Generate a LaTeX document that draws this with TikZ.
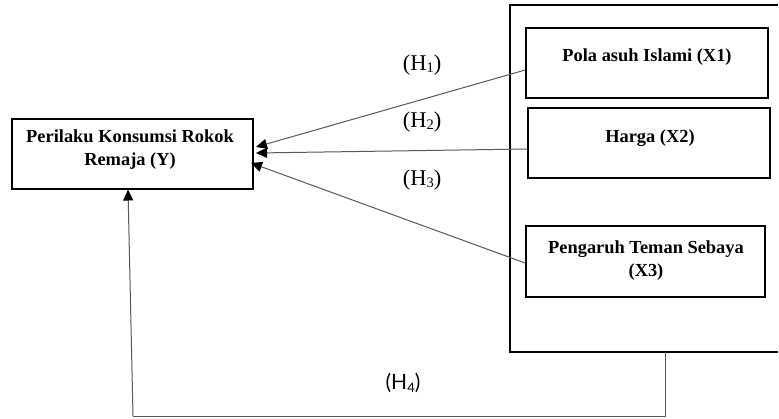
\documentclass[tikz,border=0pt]{standalone}
\usepackage{fontspec}
\setmainfont{Liberation Serif}
\newfontfamily\hsans{Lato}
\usetikzlibrary{arrows.meta,calc}
\begin{document}
\begin{tikzpicture}[x=1pt,y=-1pt,
  varbox/.style={draw=black,line width=1.6pt,inner sep=0pt},
  vartext/.style={font=\fontsize{18.4}{23}\selectfont\bfseries,align=center,anchor=base,inner sep=0pt},
  hyp/.style={font=\fontsize{22.5}{24}\selectfont,inner sep=0pt},
  conn/.style={draw=black!65,line width=1pt,-{Triangle[length=11pt,width=10pt,color=black]}},
  plain/.style={draw=black!65,line width=1pt}]
\useasboundingbox (0,0) rectangle (779,418);
\fill[white] (0,0) rectangle (779,418);
% outer group frame (open at right edge)
\coordinate (gtr) at (778,5);
\coordinate (gtl) at (510,5);
\coordinate (gbl) at (510,352);
\coordinate (gbr) at (778,352);
\draw[line width=2.2pt,line join=miter] (gtr) -- (gtl) -- (gbl) -- (gbr);
% boxes
\node[varbox,minimum width=242pt,minimum height=70pt] (x1) at (647,63) {};
\node[varbox,minimum width=242pt,minimum height=70pt] (x2) at (649,143) {};
\node[varbox,minimum width=239pt,minimum height=71pt] (x3) at (645.5,261.5) {};
\node[varbox,minimum width=241pt,minimum height=70pt] (y) at (132.5,154) {};
% texts
\node[vartext] (x1t) at (647,61) {Pola asuh Islami (X1)};
\node[vartext] (x2t) at (650,142) {Harga (X2)};
\node[vartext] (x3t) at (646,276) {Pengaruh Teman Sebaya\\(X3)};
\node[vartext] (yt) at (130,165) {Perilaku Konsumsi Rokok\\Remaja (Y)};
% hypothesis labels
\node[hyp] (h1) at (422,65) {(H\raisebox{-0.25ex}{\fontsize{14.5}{15}\selectfont 1})};
\node[hyp] (h2) at (422,122) {(H\raisebox{-0.25ex}{\fontsize{14.5}{15}\selectfont 2})};
\node[hyp] (h3) at (422,180) {(H\raisebox{-0.25ex}{\fontsize{14.5}{15}\selectfont 3})};
\node[font=\hsans\fontsize{21}{22}\selectfont,inner sep=0pt] (h4) at (403,383) {(H\raisebox{-0.3ex}{\fontsize{13}{13}\selectfont 4})};
% arrow end points
\coordinate (t1) at (256,147);
\coordinate (t2) at (256,153);
\coordinate (t3) at (251,163);
\coordinate (s1) at ($(x1.west)+(0,7)$);
\coordinate (s2) at ($(x2.west)+(0,6)$);
\coordinate (s3) at ($(x3.west)+(0,1.5)$);
\draw[conn] (s1) -- (t1);
\draw[conn] (s2) -- (t2);
\draw[conn] (s3) -- (t3);
% H4 path
\coordinate (gb) at (665,352);
\coordinate (br) at (665,416);
\coordinate (bl) at (133,416);
\coordinate (ty) at (128,189.5);
\draw[plain] (gb) -- (br) -- (bl);
\draw[conn] (bl) -- (ty);
\end{tikzpicture}
\end{document}
